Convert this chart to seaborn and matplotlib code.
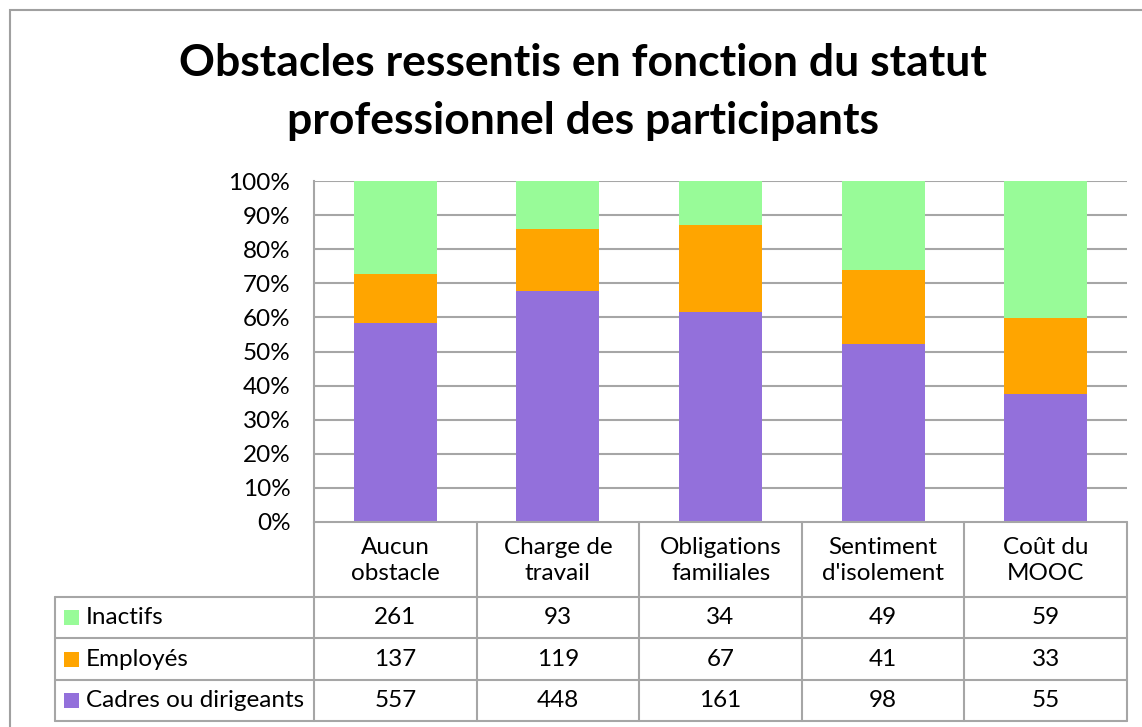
import matplotlib
matplotlib.use("Agg")
import matplotlib.pyplot as plt
from matplotlib.lines import Line2D
from matplotlib.patches import Rectangle
import seaborn as sns
import pandas as pd
import numpy as np

sns.set_theme(style="white")
plt.rcParams["font.family"] = ["Lato", "DejaVu Sans"]
plt.rcParams["text.color"] = "black"

# Data
categories = ["Aucun\nobstacle", "Charge de\ntravail", "Obligations\nfamiliales",
              "Sentiment\nd'isolement", "Coût du\nMOOC"]
series_names = ["Inactifs", "Employés", "Cadres ou dirigeants"]
inactifs = [261, 93, 34, 49, 59]
employes = [137, 119, 67, 41, 33]
cadres = [557, 448, 161, 98, 55]
colors = {"Inactifs": "#98FB98", "Employés": "#FFA500", "Cadres ou dirigeants": "#9370DB"}
title = "Obstacles ressentis en fonction du statut\nprofessionnel des participants"

W, H = 1142, 727
fig = plt.figure(figsize=(W / 100, H / 100), dpi=100)

def fx(px):
    return px / W

def fy(py):
    return 1 - py / H

x_left, x_right = 314, 1127
y_top, y_bot = 181, 522
ax = fig.add_axes([fx(x_left), fy(y_bot), fx(x_right) - fx(x_left), fy(y_top) - fy(y_bot)])

totals = np.array(inactifs) + np.array(employes) + np.array(cadres)
pct_cadres = np.array(cadres) / totals * 100
pct_emp = np.array(employes) / totals * 100
pct_inact = np.array(inactifs) / totals * 100

df = pd.DataFrame({
    "cat": categories,
    "top": pct_cadres + pct_emp + pct_inact,
    "mid": pct_cadres + pct_emp,
    "low": pct_cadres,
})

grid_c = "#A6A6A6"
for yv in range(10, 101, 10):
    ax.axhline(yv, color=grid_c, lw=1.5, zorder=0)

sns.barplot(data=df, x="cat", y="top", color=colors["Inactifs"], width=0.51,
            saturation=1, ax=ax, zorder=2)
sns.barplot(data=df, x="cat", y="mid", color=colors["Employés"], width=0.51,
            saturation=1, ax=ax, zorder=3)
sns.barplot(data=df, x="cat", y="low", color=colors["Cadres ou dirigeants"], width=0.51,
            saturation=1, ax=ax, zorder=4)
for p in ax.patches:
    p.set_linewidth(0)

fs = 17.5
ax.set_xlim(-0.5, 4.5)
ax.set_ylim(0, 100)
ax.set_yticks(range(0, 101, 10))
ax.set_yticklabels([f"{v}%" for v in range(0, 101, 10)], fontsize=fs, color="black")
ax.tick_params(axis="y", length=0, pad=17)
ax.set_xticks([])
ax.set_xlabel("")
ax.set_ylabel("")
for s in ["top", "right", "bottom"]:
    ax.spines[s].set_visible(False)
ax.spines["left"].set_color(grid_c)
ax.spines["left"].set_linewidth(1.5)

# Data table below the plot
col_edges = np.linspace(x_left, x_right, len(categories) + 1)
row_edges = [597, 638, 680, 721]
tbl_left = 55
lc = dict(color=grid_c, lw=1.5, transform=fig.transFigure)

fig.add_artist(Line2D([fx(x_left), fx(x_right)], [fy(y_bot), fy(y_bot)], **lc))
for ry in row_edges:
    fig.add_artist(Line2D([fx(tbl_left), fx(x_right)], [fy(ry), fy(ry)], **lc))
for cx in col_edges:
    fig.add_artist(Line2D([fx(cx), fx(cx)], [fy(y_bot), fy(row_edges[-1])], **lc))
fig.add_artist(Line2D([fx(tbl_left), fx(tbl_left)], [fy(row_edges[0]), fy(row_edges[-1])], **lc))

for i, cat in enumerate(categories):
    cx = (col_edges[i] + col_edges[i + 1]) / 2
    fig.text(fx(cx), fy((y_bot + row_edges[0]) / 2 + 1), cat, ha="center", va="center",
             fontsize=fs, linespacing=1.25, color="black")

rows = [inactifs, employes, cadres]
for r, (name, vals) in enumerate(zip(series_names, rows)):
    cy = (row_edges[r] + row_edges[r + 1]) / 2
    fig.add_artist(Rectangle((fx(64), fy(cy + 7.5)), fx(15), fy(0) - fy(15),
                             facecolor=colors[name], edgecolor="none",
                             transform=fig.transFigure))
    fig.text(fx(86), fy(cy), name, ha="left", va="center", fontsize=fs, color="black")
    for i, v in enumerate(vals):
        cx = (col_edges[i] + col_edges[i + 1]) / 2
        fig.text(fx(cx), fy(cy), str(v), ha="center", va="center", fontsize=fs,
                 color="black")

fig.suptitle(title, x=fx(583), y=fy(43), ha="center", va="top", color="black",
             fontsize=32, fontweight="bold", linespacing=1.55)

# Chart frame
fig.add_artist(Rectangle((fx(10), fy(740)), fx(1150) - fx(10), fy(10) - fy(740),
                         facecolor="none", edgecolor="#A0A0A0", lw=1.5,
                         transform=fig.transFigure))

fig.savefig("out.png", dpi=100)
